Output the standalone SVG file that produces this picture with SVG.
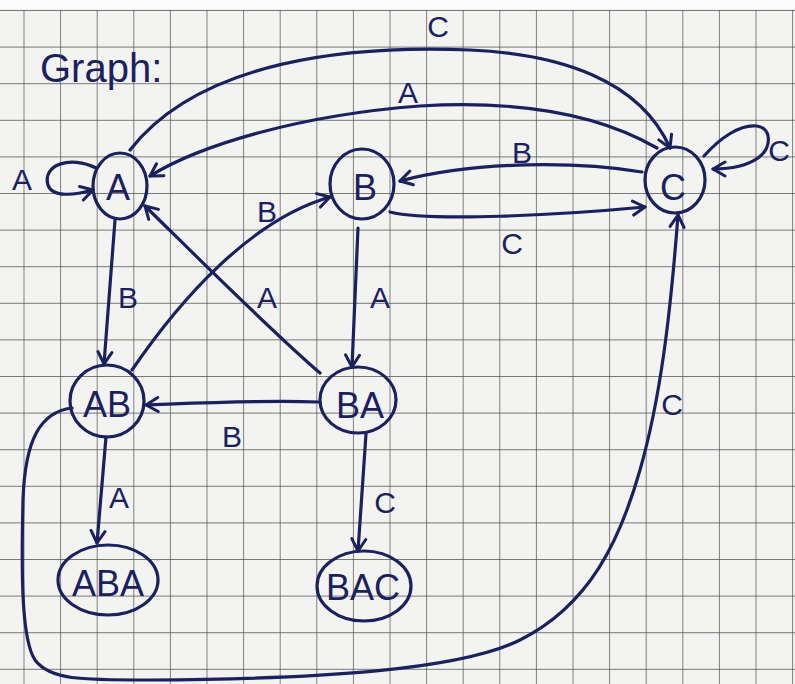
<svg xmlns="http://www.w3.org/2000/svg" width="795" height="684" viewBox="0 0 795 684">
<defs>
<style>
.ink{stroke:#1b205e;stroke-width:3.2;fill:none;stroke-linecap:round;stroke-linejoin:round}
.node{stroke:#1b205e;stroke-width:3.2;fill:none}
.nl{font-family:"Liberation Sans",Arial,sans-serif;font-size:36px;fill:#1b205e;text-anchor:middle}
.el{font-family:"Liberation Sans",Arial,sans-serif;font-size:30px;fill:#1b205e;text-anchor:middle}
.gl{stroke:#4e4e4e;stroke-width:1.4;fill:none}
</style>
<pattern id="grid" patternUnits="userSpaceOnUse" x="23.5" y="10" width="36.6" height="36.6">
<path class="gl" d="M0,0 L0,36.6 M0,0 L36.6,0"/>
</pattern>
<marker id="arr" markerUnits="userSpaceOnUse" markerWidth="18" markerHeight="18" refX="15" refY="9" orient="auto">
<path d="M3,2 L15,9 L3,16" fill="none" stroke="#1b205e" stroke-width="3" stroke-linecap="round" stroke-linejoin="round"/>
</marker>
</defs>
<rect x="0" y="0" width="795" height="684" fill="#f3f3f1"/>
<rect x="0" y="10" width="795" height="674" fill="url(#grid)"/>
<rect x="0" y="0" width="795" height="9" fill="#fbfbfb"/>

<text x="40" y="82" font-family="Liberation Sans, Arial, sans-serif" font-size="40" fill="#1b205e">Graph:</text>

<g id="connectors">
<path class="ink" marker-end="url(#arr)" d="M96,168 C70,155 42,165 48,185 C52,198 75,195 93,190"/>
<path class="ink" marker-end="url(#arr)" d="M130,150 C200,60 350,45 470,50 C560,54 640,80 670,148"/>
<path class="ink" marker-end="url(#arr)" d="M657,148 C600,115 520,100 420,106 C300,115 200,145 150,176"/>
<path class="ink" marker-end="url(#arr)" d="M642,172 C580,162 480,160 400,181"/>
<path class="ink" marker-end="url(#arr)" d="M390,212 C430,222 560,215 645,207"/>
<path class="ink" marker-end="url(#arr)" d="M704,156 C720,138 740,124 757,126 C772,128 772,148 758,158 C745,167 730,169 713,169"/>
<path class="ink" marker-end="url(#arr)" d="M115,220 L104,364"/>
<path class="ink" marker-end="url(#arr)" d="M132,370 C180,300 250,220 330,197"/>
<path class="ink" marker-end="url(#arr)" d="M320,373 C270,330 190,250 145,206"/>
<path class="ink" marker-end="url(#arr)" d="M358,228 L352,367"/>
<path class="ink" marker-end="url(#arr)" d="M318,402 C260,400 200,403 146,405"/>
<path class="ink" marker-end="url(#arr)" d="M106,437 L97,543"/>
<path class="ink" marker-end="url(#arr)" d="M366,434 L358,551"/>
<path class="ink" marker-end="url(#arr)" d="M72,408 C40,412 25,440 23,500 C21,580 22,640 35,660 C50,680 80,680 150,680 C320,679 460,670 520,640 C590,605 620,540 640,470 C660,400 670,320 678,215"/>
<text class="el" x="22" y="190">A</text>
<text class="el" x="438" y="37">C</text>
<text class="el" x="408" y="103">A</text>
<text class="el" x="522" y="163">B</text>
<text class="el" x="512" y="254">C</text>
<text class="el" x="779" y="161" text-anchor="start">C</text>
<text class="el" x="128" y="308">B</text>
<text class="el" x="267" y="222">B</text>
<text class="el" x="267" y="308">A</text>
<text class="el" x="380" y="308">A</text>
<text class="el" x="232" y="447">B</text>
<text class="el" x="119" y="508">A</text>
<text class="el" x="385" y="513">C</text>
<text class="el" x="672" y="415" font-size="26">C</text>
</g>

<g id="node-A"><ellipse class="node" cx="120" cy="186" rx="27" ry="33"/><text class="nl" x="118" y="200">A</text></g>
<g id="node-B"><ellipse class="node" cx="362" cy="184" rx="32" ry="35"/><text class="nl" x="365" y="200">B</text></g>
<g id="node-C"><ellipse class="node" cx="675" cy="180" rx="30" ry="33"/><text class="nl" x="673" y="200">C</text></g>
<g id="node-AB"><ellipse class="node" cx="107" cy="401" rx="37" ry="36"/><text class="nl" x="107" y="417">AB</text></g>
<g id="node-BA"><ellipse class="node" cx="358" cy="400" rx="38" ry="33"/><text class="nl" x="360" y="418">BA</text></g>
<g id="node-ABA"><ellipse class="node" cx="108" cy="580" rx="50" ry="35"/><text class="nl" x="108" y="596">ABA</text></g>
<g id="node-BAC"><ellipse class="node" cx="364" cy="586" rx="47" ry="35"/><text class="nl" x="363" y="600">BAC</text></g>
</svg>
